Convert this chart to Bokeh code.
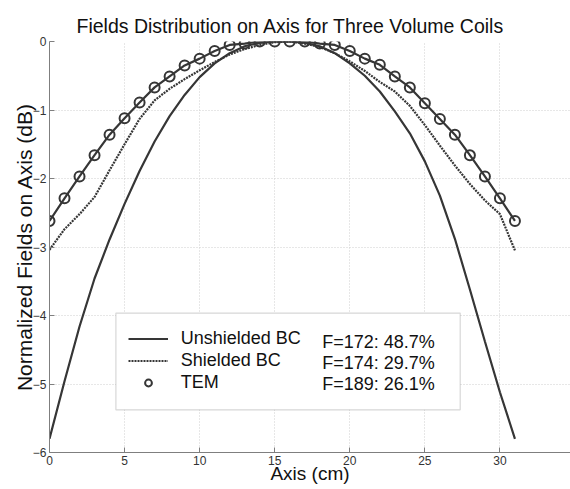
from bokeh.plotting import figure
from bokeh.models import (Legend, LegendItem, Label, BoxAnnotation, Range1d, FixedTicker,
                          CDSView, IndexFilter)
from bokeh.embed import file_html
from bokeh.resources import INLINE

# ---- data ----
axis_cm = list(range(32))
unshielded_bc = [-5.80, -4.96, -4.16, -3.46, -2.89, -2.37, -1.89, -1.46, -1.09, -0.78, -0.52, -0.32,
                 -0.17, -0.07, -0.02, 0.00, 0.00, -0.02, -0.07, -0.17, -0.32, -0.50, -0.73, -1.02,
                 -1.34, -1.75, -2.25, -2.88, -3.62, -4.38, -5.12, -5.80]
shielded_bc = [-3.04, -2.74, -2.52, -2.27, -1.88, -1.50, -1.13, -0.86, -0.69, -0.55, -0.42, -0.30,
               -0.19, -0.11, -0.05, -0.01, 0.00, -0.03, -0.08, -0.17, -0.29, -0.43, -0.59, -0.73,
               -0.94, -1.22, -1.52, -1.81, -2.08, -2.32, -2.52, -3.05]
tem = [-2.62, -2.29, -1.97, -1.66, -1.36, -1.12, -0.89, -0.67, -0.51, -0.35, -0.25, -0.14,
       -0.05, -0.03, 0.00, 0.00, 0.00, 0.00, -0.03, -0.05, -0.14, -0.25, -0.34, -0.51,
       -0.67, -0.90, -1.13, -1.36, -1.66, -1.97, -2.29, -2.62]
series_names = ["Unshielded BC", "Shielded BC", "TEM"]
f_labels = ["F=172: 48.7%", "F=174: 29.7%", "F=189: 26.1%"]
x_ticks = [0, 5, 10, 15, 20, 25, 30]
y_ticks = [-6, -5, -4, -3, -2, -1, 0]

FONT = "Liberation Sans"
CURVE = "#363636"
AXIS_C = "#7f7f7f"

p = figure(width=570, height=489, x_range=Range1d(0, 34.7), y_range=Range1d(-6, 0),
           output_backend="svg", toolbar_location=None,
           title="Fields Distribution on Axis for Three Volume Coils",
           min_border_left=49, min_border_right=0, min_border_top=41, min_border_bottom=37)
p.outline_line_color = None
p.background_fill_color = "white"
p.border_fill_color = "white"

p.title.text_font = FONT
p.title.text_font_size = "19.5px"
p.title.text_font_style = "normal"
p.title.text_color = "#111111"
p.title.align = "left"
p.title.offset = 27
p.title.standoff = 9

for ax in (p.xaxis[0], p.yaxis[0]):
    ax.axis_line_color = AXIS_C
    ax.major_tick_line_color = AXIS_C
    ax.major_tick_in = 5
    ax.major_tick_out = 0
    ax.minor_tick_line_color = None
    ax.major_label_text_font = FONT
    ax.major_label_text_font_size = "12px"
    ax.major_label_text_color = "#333333"
    ax.axis_label_text_font = FONT
    ax.axis_label_text_font_style = "normal"
    ax.axis_label_text_color = "#111111"

p.xaxis.ticker = FixedTicker(ticks=x_ticks)
p.yaxis.ticker = FixedTicker(ticks=y_ticks)
p.xaxis.axis_label = "Axis (cm)"
p.yaxis.axis_label = "Normalized Fields on Axis (dB)"
p.xaxis.axis_label_text_font_size = "19px"
p.yaxis.axis_label_text_font_size = "21px"
p.xaxis.major_label_standoff = 3
p.yaxis.major_label_standoff = 3
p.xaxis.axis_label_standoff = -5
p.yaxis.axis_label_standoff = -6

p.xgrid.ticker = FixedTicker(ticks=x_ticks)
p.ygrid.ticker = FixedTicker(ticks=y_ticks)
for g in (p.xgrid[0], p.ygrid[0]):
    g.grid_line_color = "#cfcfcf"
    g.grid_line_dash = "1 2"
    g.grid_line_width = 1

# smaller marker used only as the legend sample; hidden under the first TEM marker
r_tm_key = p.scatter(axis_cm, tem, marker="circle", size=7, fill_color=None,
                     line_color=CURVE, line_width=2, level="underlay",
                     view=CDSView(filter=IndexFilter(indices=[0])))
r_tm = p.scatter(axis_cm, tem, marker="circle", size=10, fill_color="white",
                 line_color=CURVE, line_width=2)
r_un = p.line(axis_cm, unshielded_bc, line_color=CURVE, line_width=2.2)
r_sh = p.line(axis_cm, shielded_bc, line_color=CURVE, line_width=2.2, line_dash="2 1")
r_tl = p.line(axis_cm, tem, line_color=CURVE, line_width=2.2)

box = BoxAnnotation(left=66.4, right=410.7, top=139.4, bottom=42.7,
                    left_units="screen", right_units="screen",
                    top_units="screen", bottom_units="screen",
                    fill_color="white", fill_alpha=1.0,
                    line_color="#7a7a7a", line_width=1.2)
p.add_layout(box)

legend = Legend(items=[LegendItem(label=series_names[0], renderers=[r_un]),
                       LegendItem(label=series_names[1], renderers=[r_sh]),
                       LegendItem(label=series_names[2], renderers=[r_tm_key], index=0)],
                location=(78.7, 59), padding=0, margin=0, spacing=1,
                glyph_width=40, glyph_height=17, label_height=20, label_standoff=13,
                border_line_alpha=0, background_fill_alpha=0,
                label_text_font=FONT, label_text_font_size="18px",
                label_text_color="#111111")
p.add_layout(legend)

for i, txt in enumerate(f_labels):
    p.add_layout(Label(x=272.7, y=110.7 - 21 * i, x_units="screen", y_units="screen",
                       text=txt, text_baseline="middle", text_font=FONT,
                       text_font_size="18px", text_color="#111111"))

open("out.html", "w").write(file_html(p, INLINE))
